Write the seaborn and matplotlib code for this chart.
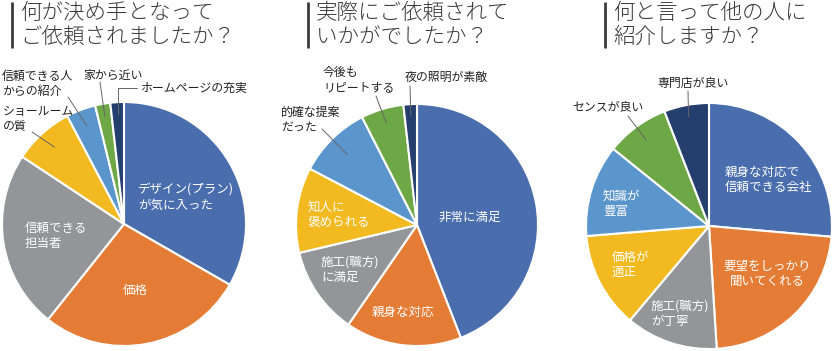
import math

import matplotlib.pyplot as plt
import seaborn as sns

# ---- data ----
title_1 = "何が決め手となって\nご依頼されましたか？"
labels_1 = ["デザイン(プラン)\nが気に入った", "価格", "信頼できる\n担当者", "ショールーム\nの質",
            "信頼できる人\nからの紹介", "家から近い", "ホームページの充実"]
values_1 = [33.3, 27.4, 23.6, 8.0, 3.9, 2.0, 1.8]

title_2 = "実際にご依頼されて\nいかがでしたか？"
labels_2 = ["非常に満足", "親身な対応", "施工(職方)\nに満足", "知人に\n褒められる",
            "的確な提案\nだった", "今後も\nリピートする", "夜の照明が素敵"]
values_2 = [44.1, 15.5, 11.7, 11.4, 9.8, 5.7, 1.8]

title_3 = "何と言って他の人に\n紹介しますか？"
labels_3 = ["親身な対応で\n信頼できる会社", "要望をしっかり\n聞いてくれる", "施工(職方)\nが丁寧",
            "価格が\n適正", "知識が\n豊富", "センスが良い", "専門店が良い"]
values_3 = [26.4, 22.6, 12.1, 12.6, 12.1, 8.3, 5.9]

colors = ["#4a6dae", "#e57c35", "#939598", "#f2ba20", "#5a95cc", "#6ea846", "#243f6e"]

# ---- layout (pixels) ----
W, H = 834, 351
pies = [
    dict(title=title_1, labels=labels_1, values=values_1, c=(124, 224), r=122, bar_x=12,
         # (x, y, ha, inside, leader tip fraction)
         text=[(138, 198, "left", True, None), (135, 290, "center", True, None),
               (25, 236, "left", True, None), (3, 119, "left", False, 0.85),
               (2, 84, "left", False, 0.86), (113, 75, "center", False, 0.9),
               (140, 88, "left", False, 0.9)],
         leader_from=[None, None, None, (32, 132), (68, 97), (100, 82), "elbow"]),
    dict(title=title_2, labels=labels_2, values=values_2, c=(417, 225), r=121, bar_x=308,
         text=[(470, 217, "center", True, None), (403, 312, "center", True, None),
               (321, 270, "left", True, None), (308, 215, "left", True, None),
               (281, 120, "left", False, 0.82), (323, 80, "left", False, 0.88),
               (446, 77, "center", False, 0.9)],
         leader_from=[None, None, None, None, (322, 129), (376, 96), (410, 86)]),
    dict(title=title_3, labels=labels_3, values=values_3, c=(709, 226), r=123, bar_x=605,
         text=[(725, 180, "left", True, None), (767, 274, "center", True, None),
               (651, 314, "left", True, None), (612, 265, "left", True, None),
               (603, 204, "left", True, None), (608, 107, "center", False, 0.86),
               (693, 83, "center", False, 0.9)],
         leader_from=[None, None, None, None, None, (628, 116), (688, 91)]),
]

sns.set_theme(style="white")
plt.rcParams['font.family'] = ['Noto Sans CJK JP', 'DejaVu Sans']

fig = plt.figure(figsize=(W / 100, H / 100), dpi=100)
fig.patch.set_facecolor("white")

for p in pies:
    cx, cy = p["c"]
    r = p["r"]
    ax = fig.add_axes([(cx - r) / W, 1 - (cy + r) / H, 2 * r / W, 2 * r / H])
    wedges, _ = ax.pie(p["values"], colors=colors, startangle=90, counterclock=False,
                       radius=1, wedgeprops=dict(edgecolor="white", linewidth=1.5))
    ax.set_xlim(-1, 1)
    ax.set_ylim(-1, 1)
    ax.axis("off")
    p["wedges"] = wedges

# overlay in pixel coordinates for text and leader lines
ov = fig.add_axes([0, 0, 1, 1])
ov.set_xlim(0, W)
ov.set_ylim(H, 0)
ov.axis("off")
ov.patch.set_alpha(0)

for p in pies:
    cx, cy = p["c"]
    r = p["r"]
    bx = p["bar_x"]
    ov.plot([bx, bx], [2, 48], color="#3a3a3a", lw=2, solid_capstyle="butt")
    ov.text(bx + 8, 25, p["title"], fontsize=15.5, color="#3a3a3a", ha="left", va="center",
            linespacing=1.15, fontweight="light")
    for lab, (x, y, ha, inside, frac), src, w in zip(p["labels"], p["text"], p["leader_from"],
                                                     p["wedges"]):
        if inside:
            ov.text(x, y, lab, fontsize=9, color="white", ha=ha, va="center", linespacing=1.25)
            continue
        ov.text(x, y, lab, fontsize=8.6, color="#222222", ha=ha, va="center", linespacing=1.2)
        mid = math.radians((w.theta1 + w.theta2) / 2)
        tx = cx + r * frac * math.cos(mid)
        ty = cy - r * frac * math.sin(mid)
        if src == "elbow":
            ov.plot([x - 3, tx, tx], [y, y, ty], color="#666666", lw=0.7)
        else:
            ov.plot([src[0], tx], [src[1], ty], color="#666666", lw=0.7)

fig.savefig("out.png", dpi=100)
